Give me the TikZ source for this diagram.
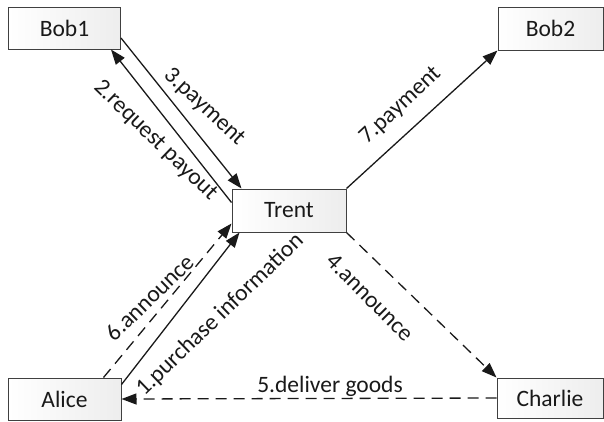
\documentclass[tikz,border=0pt]{standalone}
\usepackage{fontspec}
\setmainfont{Carlito}
\usetikzlibrary{arrows.meta,calc}
\tikzset{
  box/.style={draw=black!75, line width=1pt, left color=white, right color=black!7,
    inner sep=0pt, font=\fontsize{23.5}{28}\selectfont, text=black!90},
  conn/.style={line width=1.3pt, draw=black!90, -{Triangle[length=15pt,width=11pt]}},
  dashconn/.style={conn, dash pattern=on 11pt off 7pt},
  lbl/.style={inner sep=0pt, font=\fontsize{23.5}{28}\selectfont, text=black!90}
}
\begin{document}
\begin{tikzpicture}[x=1pt,y=-1pt]
\useasboundingbox (0,0) rectangle (604,421);
\node[box, minimum width=112pt, minimum height=42pt] (bob1) at (64.5,28) {Bob1};
\node[box, minimum width=105pt, minimum height=43pt] (bob2) at (550.5,28.5) {Bob2};
\node[box, minimum width=114pt, minimum height=43pt] (trent) at (289,210.5) {Trent};
\node[box, minimum width=113pt, minimum height=42pt] (alice) at (64.5,399) {Alice};
\node[box, minimum width=106pt, minimum height=40pt] (charlie) at (550,398) {Charlie};

% 3.payment
\draw[conn] ($(bob1.east)+(0,10)$) -- ($(trent.north west)+(10,0)$);
% 2.request payout
\draw[conn] ($(trent.north west)+(0,14)$) -- ($(bob1.south east)+(-10,0)$);
% 7.payment
\draw[conn] (trent.north east) -- (bob2.south west);
% 4.announce
\draw[dashconn] (trent.south east) -- (charlie.north west);
% 5.deliver goods
\draw[dashconn] (charlie.west) -- (alice.east);
% 1.purchase information
\draw[conn] ($(alice.north east)+(0,7)$) -- ($(trent.south west)+(8,0)$);
% 6.announce
\draw[dashconn] ($(alice.north east)+(-18,0)$) -- ($(trent.south west)+(0,-9)$);

\node[lbl, rotate=-43] (l3) at (204,107) {3.payment};
\node[lbl, rotate=-44] (l2) at (155.5,140.5) {2.request payout};
\node[lbl, rotate=43] (l7) at (400.5,106) {7.payment};
\node[lbl, rotate=-45] (l4) at (370,297.5) {4.announce};
\node[lbl, anchor=base] (l5) at (330,392) {5.deliver goods};
\node[lbl, rotate=44] (l1) at (220,315) {1.purchase information};
\node[lbl, rotate=44] (l6) at (149.5,297.5) {6.announce};
\end{tikzpicture}
\end{document}
